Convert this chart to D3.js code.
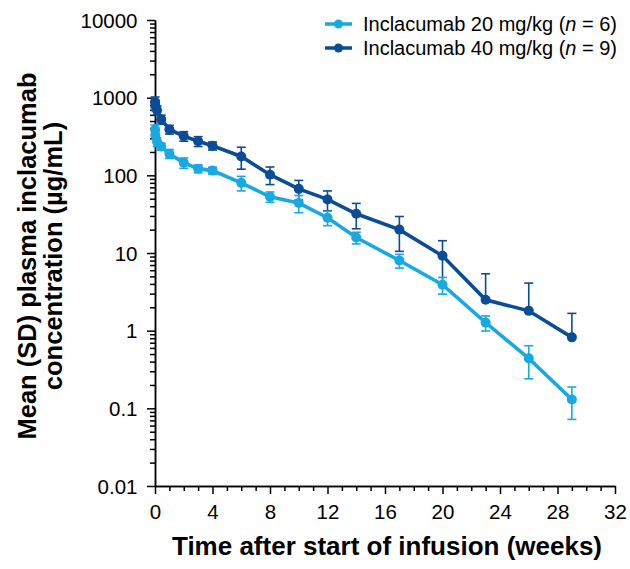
<!DOCTYPE html>
<html>
<head>
<meta charset="utf-8">
<script src="https://cdn.jsdelivr.net/npm/d3@7"></script>
<style>
  body { margin: 0; background: #fff; }
  svg { display: block; font-family: "Liberation Sans", Arial, sans-serif; }
</style>
</head>
<body>
<svg id="chart" width="630" height="569"></svg>
<script>
// sampling times (weeks after start of infusion)
const weeks = [0.006, 0.024, 0.143, 0.43, 1, 2, 3, 4, 6, 8, 10, 12, 14, 17, 20, 23, 26, 29];

// Inclacumab 20 mg/kg (n = 6)
const mean20 = [390, 330, 270, 235, 190, 145, 122, 115, 80, 53, 44, 28.5, 15.8, 8.0, 3.9, 1.27, 0.44, 0.13];
const sd20   = [55, 40, 35, 25, 25, 22, 14, 12, 17, 8, 11, 6, 2.7, 1.6, 0.95, 0.28, 0.2, 0.058];

// Inclacumab 40 mg/kg (n = 9)
const mean40 = [880, 800, 690, 525, 390, 320, 275, 240, 175, 102, 67, 49, 32, 20, 9.2, 2.5, 1.8, 0.82];
const sd40   = [140, 120, 90, 70, 50, 45, 40, 28, 55, 26, 19, 14, 11.5, 9.5, 5.2, 2.9, 2.3, 0.85];

const seriesNames = ["Inclacumab 20 mg/kg", "Inclacumab 40 mg/kg"];
const seriesN = [6, 9];
const colors = ["#19a9e1", "#0b4c97"];

const yTicks = [0.01, 0.1, 1, 10, 100, 1000, 10000];
const xTicks = [0, 4, 8, 12, 16, 20, 24, 28, 32];

const svg = d3.select("#chart");

const x = d3.scaleLinear().domain([0, 32]).range([155, 615]);
const y = d3.scaleLog().domain([0.01, 10000]).range([486, 20]);

// minor ticks
const yMinor = [];
for (let e = -2; e < 4; e++) {
  for (let k = 2; k <= 9; k++) yMinor.push(k * Math.pow(10, e));
}
const xMinor = d3.range(0, 33).filter(function (d) { return d % 4 !== 0; });

function styleAxis(g) {
  g.selectAll("path, line").attr("stroke", "#000").attr("stroke-width", 1.5);
  g.selectAll("text").attr("fill", "#000").style("font-size", "20.5px");
}

svg.append("g")
  .attr("transform", "translate(155,0)")
  .call(d3.axisLeft(y).tickValues(yMinor).tickSize(5).tickFormat("").tickSizeOuter(0))
  .call(styleAxis);

svg.append("g")
  .attr("transform", "translate(155,0)")
  .call(d3.axisLeft(y).tickValues(yTicks).tickSize(8).tickPadding(9.5).tickSizeOuter(0)
    .tickFormat(function (d) { return String(d); }))
  .call(styleAxis)
  .call(function (g) { g.selectAll("text").attr("dy", "0.35em"); });

svg.append("g")
  .attr("transform", "translate(0,486)")
  .call(d3.axisBottom(x).tickValues(xMinor).tickSize(5).tickFormat("").tickSizeOuter(0))
  .call(styleAxis);

svg.append("g")
  .attr("transform", "translate(0,486)")
  .call(d3.axisBottom(x).tickValues(xTicks).tickSize(8).tickPadding(10).tickSizeOuter(0))
  .call(styleAxis);

// axis titles
svg.append("text")
  .attr("x", 387).attr("y", 555)
  .attr("text-anchor", "middle")
  .style("font-size", "26px").style("font-weight", "bold")
  .text("Time after start of infusion (weeks)");

svg.append("text")
  .attr("transform", "translate(36,256) rotate(-90)")
  .attr("text-anchor", "middle")
  .style("font-size", "25.5px").style("font-weight", "bold")
  .text("Mean (SD) plasma inclacumab");

svg.append("text")
  .attr("transform", "translate(62,256) rotate(-90)")
  .attr("text-anchor", "middle")
  .style("font-size", "25.5px").style("font-weight", "bold")
  .text("concentration (µg/mL)");

// series
const series = [
  { mean: mean40, sd: sd40, color: colors[1] },
  { mean: mean20, sd: sd20, color: colors[0] }
];

const line = d3.line()
  .x(function (d) { return x(d.t); })
  .y(function (d) { return y(d.m); });

series.forEach(function (s) {
  const pts = weeks.map(function (t, i) { return { t: t, m: s.mean[i], sd: s.sd[i] }; });
  const g = svg.append("g");

  // error bars
  const eb = g.append("g").attr("stroke", s.color).attr("stroke-width", 1.6);
  pts.forEach(function (d) {
    const cx = x(d.t);
    const hi = d.m + d.sd;
    const lo = d.m - d.sd;
    eb.append("line").attr("x1", cx).attr("x2", cx).attr("y1", y(d.m)).attr("y2", y(hi));
    eb.append("line").attr("x1", cx - 4.5).attr("x2", cx + 4.5).attr("y1", y(hi)).attr("y2", y(hi));
    if (lo > 0.01) {
      eb.append("line").attr("x1", cx).attr("x2", cx).attr("y1", y(d.m)).attr("y2", y(lo));
      eb.append("line").attr("x1", cx - 4.5).attr("x2", cx + 4.5).attr("y1", y(lo)).attr("y2", y(lo));
    }
  });

  g.append("path")
    .datum(pts)
    .attr("fill", "none")
    .attr("stroke", s.color)
    .attr("stroke-width", 3.6)
    .attr("d", line);

  g.selectAll("circle")
    .data(pts)
    .join("circle")
    .attr("cx", function (d) { return x(d.t); })
    .attr("cy", function (d) { return y(d.m); })
    .attr("r", 5)
    .attr("fill", s.color);
});

// legend
const legend = svg.append("g");
seriesNames.forEach(function (name, i) {
  const ly = 24 + i * 24;
  legend.append("line")
    .attr("x1", 325).attr("x2", 352).attr("y1", ly).attr("y2", ly)
    .attr("stroke", colors[i]).attr("stroke-width", 3.5);
  legend.append("circle")
    .attr("cx", 338.5).attr("cy", ly).attr("r", 4.5).attr("fill", colors[i]);
  const t = legend.append("text")
    .attr("x", 363).attr("y", ly + 7)
    .style("font-size", "20px").attr("fill", "#000");
  t.append("tspan").text(name + " (");
  t.append("tspan").style("font-style", "italic").text("n");
  t.append("tspan").text(" = " + seriesN[i] + ")");
});
</script>
</body>
</html>
